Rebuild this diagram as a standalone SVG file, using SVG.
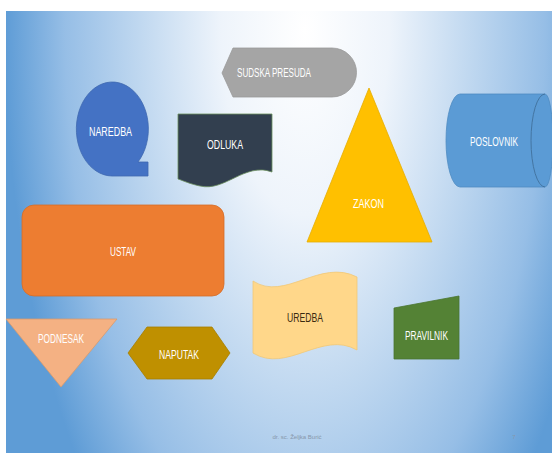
<svg xmlns="http://www.w3.org/2000/svg" width="552" height="453" viewBox="0 0 552 453">
<defs>
<radialGradient id="bg" gradientUnits="userSpaceOnUse" cx="0" cy="0" r="1" gradientTransform="translate(305,30) scale(300,660)">
<stop offset="0" stop-color="#ffffff"/>
<stop offset="0.28" stop-color="#eef4fb"/>
<stop offset="0.55" stop-color="#c0d8f0"/>
<stop offset="0.8" stop-color="#96bee6"/>
<stop offset="1" stop-color="#5e9cd6"/>
</radialGradient>
<style>
.t{font-family:"Liberation Sans Narrow","Liberation Sans",Arial,sans-serif;font-size:12px;fill:#ffffff;text-anchor:middle;dominant-baseline:central}
.f{font-family:"Liberation Sans",Arial,sans-serif;font-size:6px;fill:#8797ab;text-anchor:middle;dominant-baseline:central}
</style>
</defs>
<rect x="0" y="0" width="552" height="453" fill="#ffffff"/>
<rect x="6" y="11" width="546" height="442" fill="url(#bg)"/>

<g id="sudska-presuda">
<path d="M222 73 L233 48 H332 A24.5 24.5 0 0 1 332 97 H233 Z" fill="#a5a5a5" stroke="#9a9a9a" stroke-width="0.8"/>
<text class="t" x="274" y="73" textLength="74" lengthAdjust="spacingAndGlyphs">SUDSKA PRESUDA</text>
</g>

<g id="naredba">
<path d="M112 176 A36 47 0 1 1 138 162 L148 162 L148 176 Z" fill="#4472c4" stroke="#3f68b0" stroke-width="0.8"/>
<text class="t" x="110.5" y="132" textLength="43" lengthAdjust="spacingAndGlyphs">NAREDBA</text>
</g>

<g id="odluka">
<path d="M178 114 H272 V172 C 245 162, 225 192, 200 186 C 190 184, 184 181, 178 179 Z" fill="#323f4f" stroke="#6b8f5e" stroke-width="0.8"/>
<text class="t" x="225" y="145" textLength="36" lengthAdjust="spacingAndGlyphs">ODLUKA</text>
</g>

<g id="zakon">
<path d="M369 88 L432 242 H307 Z" fill="#ffc000" stroke="#e6ad00" stroke-width="0.8"/>
<text class="t" x="368.5" y="203.5" textLength="31" lengthAdjust="spacingAndGlyphs">ZAKON</text>
</g>

<g id="poslovnik">
<path d="M460 94 H545 A8 46.5 0 0 1 545 187 H460 A14 46.5 0 0 1 460 94 Z" fill="#5b9bd5" stroke="#4f8bc2" stroke-width="0.8"/>
<path d="M545 94 A14 46.5 0 0 0 545 187" fill="none" stroke="#41719c" stroke-width="0.9"/>
<text class="t" x="494" y="141.5" textLength="48" lengthAdjust="spacingAndGlyphs">POSLOVNIK</text>
</g>

<g id="ustav">
<rect x="22" y="205" width="202" height="91" rx="12" fill="#ed7d31" stroke="#d46d28" stroke-width="0.8"/>
<text class="t" x="123" y="251.5" textLength="26" lengthAdjust="spacingAndGlyphs">USTAV</text>
</g>

<g id="podnesak">
<path d="M6 319 H117 L61 387 Z" fill="#f4b183" stroke="#d99a6c" stroke-width="0.8"/>
<text class="t" x="61" y="338.5" textLength="46" lengthAdjust="spacingAndGlyphs">PODNESAK</text>
</g>

<g id="naputak">
<path d="M128 353 L147 327 H212 L230 353 L212 379 H147 Z" fill="#bf9000" stroke="#a67d00" stroke-width="0.8"/>
<text class="t" x="179" y="354.5" textLength="40" lengthAdjust="spacingAndGlyphs">NAPUTAK</text>
</g>

<g id="uredba">
<path d="M253 281 C 285 302, 320 258, 357 277 V350 C 322 330, 287 374, 253 353 Z" fill="#ffd78a" stroke="#f0c878" stroke-width="0.8"/>
<text class="t" x="305" y="317.5" textLength="36" lengthAdjust="spacingAndGlyphs" style="fill:#3a2a10">UREDBA</text>
</g>

<g id="pravilnik">
<path d="M394 308 L459 296 V359 H394 Z" fill="#548235" stroke="#4a7530" stroke-width="0.8"/>
<text class="t" x="426.5" y="335.5" textLength="43" lengthAdjust="spacingAndGlyphs">PRAVILNIK</text>
</g>

<g id="connectors"></g>

<text class="f" x="297" y="437">dr. sc. Željka Burić</text>
<text class="f" x="514" y="437">7</text>
</svg>
